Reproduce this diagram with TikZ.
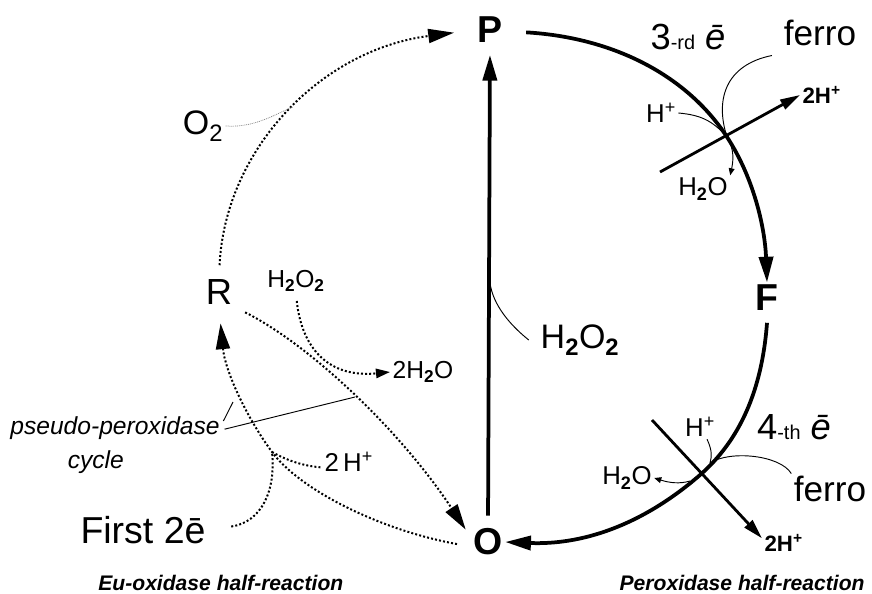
\documentclass[tikz,border=0pt]{standalone}
\usepackage{fontspec}
\setmainfont{Liberation Sans}
\usetikzlibrary{arrows.meta}

\begin{document}
\begin{tikzpicture}[x=0.03cm, y=-0.03cm,
statelbl/.style={font=\fontsize{32}{38}\selectfont\bfseries, inner sep=2pt},
molecule/.style={font=\fontsize{29}{35}\selectfont, inner sep=2pt},
reagent/.style={font=\fontsize{21}{25}\selectfont, inner sep=2pt},
ferrolbl/.style={font=\fontsize{30}{36}\selectfont, inner sep=2pt},
ordinal/.style={font=\fontsize{31}{37}\selectfont, inner sep=2pt},
smalllbl/.style={font=\fontsize{22}{26}\selectfont, inner sep=2pt},
protons/.style={font=\fontsize{19}{23}\selectfont\bfseries, inner sep=2pt},
halfrxn/.style={font=\fontsize{18}{22}\selectfont\bfseries\itshape, inner sep=1pt},
mainarrow/.style={line width=3.2pt, -{Triangle[length=22pt,width=12pt]}},
dotline/.style={line width=1.7pt, dash pattern=on 1.7pt off 1.8pt},
dotarrow/.style={dotline, -{Triangle[length=22pt,width=12pt]}},
minorarrow/.style={line width=2.4pt, -{Triangle[length=17pt,width=9pt]}},
pointer/.style={line width=0.8pt},
tinyarrow/.style={line width=0.8pt, -{Triangle[length=6pt,width=5pt]}},
finedot/.style={line width=0.6pt, gray, dash pattern=on 0.8pt off 0.8pt}
]
\useasboundingbox (0,0) rectangle (872,594);

% states of the cycle
\node[statelbl] (P) at (490,30) {P};
\node[statelbl] (O) at (488,542) {O};
\node[statelbl] (F) at (767,298) {F};
\node[molecule, font=\fontsize{31}{37}\selectfont] (R) at (219,292) {R};

% left half
\node[molecule] (O2) at (203,126) {O\textsubscript{2}};
\node[molecule] (H2O2) at (580,340) {H\textsubscript{\textbf{2}}O\textsubscript{\textbf{2}}};
\node[reagent] (H2O2s) at (296,281) {H\textsubscript{\textbf{2}}O\textsubscript{\textbf{2}}};
\node[reagent, anchor=west] (H2Oout) at (390,372) {2H\textsubscript{\textbf{2}}O};
\node[reagent, font=\fontsize{22}{26}\selectfont, anchor=base west] (Hin) at (322,471) {2\,H\textsuperscript{+}};
\node[font=\fontsize{21}{29}\selectfont\itshape, align=left, inner sep=2pt] (pseudo) at (115,445) {pseudo-peroxidase\\\hspace*{49pt}cycle};
\node[font=\fontsize{32}{38}\selectfont, inner sep=2pt] (first) at (143,530) {First 2ē};
\node[halfrxn, anchor=base west] (euox) at (97,590) {Eu-oxidase half-reaction};

% right half
\node[ordinal] (third) at (688,37) {3{\fontsize{17}{17}\selectfont -rd} \textit{ē}};
\node[ferrolbl] (ferro3) at (820,33) {ferro};
\node[smalllbl] (Hp3) at (661,113) {H\textsuperscript{+}};
\node[smalllbl] (Hw3) at (703,189) {H\textsubscript{\textbf{2}}O};
\node[protons, anchor=west] (Hout3) at (800,95) {2H\textsuperscript{+}};
\node[ordinal] (fourth) at (794,427) {4{\fontsize{17}{17}\selectfont -th} \textit{ē}};
\node[ferrolbl] (ferro4) at (830,489) {ferro};
\node[smalllbl] (Hp4) at (700,427) {H\textsuperscript{+}};
\node[smalllbl] (Hw4) at (627,478) {H\textsubscript{\textbf{2}}O};
\node[protons, anchor=west] (Hout4) at (762,543) {2H\textsuperscript{+}};
\node[halfrxn, anchor=base east] (perox) at (866,590) {Peroxidase half-reaction};

\coordinate (x3) at (727,137);
\coordinate (s3) at (660,172);
\coordinate (x4) at (700,475);
\coordinate (s4) at (652,420);
\coordinate (m4) at (710,463);
\coordinate (w4) at (690,481);
\coordinate (jn) at (272,452);
\coordinate (o2in) at (293,107);
\coordinate (pA) at (355,397);
\coordinate (pB) at (233,402);

% peroxidase half-reaction
\draw[mainarrow, shorten >=8pt, shorten <=9pt] (O.north) -- (P.south);
\draw[mainarrow] ([xshift=18pt,yshift=-2pt]P.east) .. controls (620,38) and (690,80) .. (x3)
  .. controls (755,180) and (765,230) .. (F.north);
\draw[mainarrow] ([yshift=-8pt]F.south) .. controls (762,390) and (740,440) .. (x4)
  .. controls (640,527) and (580,545) .. (O.east);
\draw[minorarrow] (s3) -- (Hout3.west);
\draw[minorarrow] (s4) -- ([yshift=4pt]Hout4.west);
\draw[pointer] ([xshift=-8pt,yshift=-6pt]ferro3.south west) .. controls (725,65) and (715,100) .. (x3);
\draw[pointer] (Hp3.east) .. controls (700,115) and (712,120) .. (x3);
\draw[tinyarrow] (x3) .. controls (735,150) and (733,162) .. (Hw3.north east);
\draw[pointer] ([xshift=6pt]Hp4.south) .. controls (712,450) and (712,456) .. (m4);
\draw[pointer] (ferro4.north west) .. controls (780,455) and (730,450) .. (m4);
\draw[tinyarrow] (w4) .. controls (680,484) and (670,483) .. (Hw4.east);
\draw[pointer] ([xshift=-8pt]H2O2.west) .. controls (510,325) and (493,305) .. (490,283);

% eu-oxidase half-reaction
\draw[dotarrow, shorten <=10pt, shorten >=18pt] (R.north) .. controls (225,150) and (320,50) .. (P.west);
\draw[finedot] (O2.east) .. controls (255,128) and (275,114) .. (o2in);
\draw[dotarrow, shorten <=10pt, shorten >=8pt] (R.south east) .. controls (310,345) and (400,430) .. (O.165);
\draw[dotarrow, shorten <=12pt, shorten >=14pt] (O.195) .. controls (380,530) and (300,490) .. (jn)
  .. controls (245,415) and (225,370) .. (R.south);
\draw[dotline, shorten <=20pt] (first.east) .. controls (262,522) and (276,490) .. (jn);
\draw[dotline] (jn) .. controls (290,462) and (305,466) .. ([yshift=3pt]Hin.base west);
\draw[dotarrow, -{Triangle[length=12pt,width=8pt]}, shorten <=6pt] (H2O2s.south) .. controls (302,350) and (330,378) .. (H2Oout.west);
\draw[pointer] ([xshift=2pt,yshift=-13pt]pseudo.north east) -- (pA);
\draw[pointer] ([xshift=1pt,yshift=-6pt]pseudo.north east) -- (pB);
\end{tikzpicture}
\end{document}
